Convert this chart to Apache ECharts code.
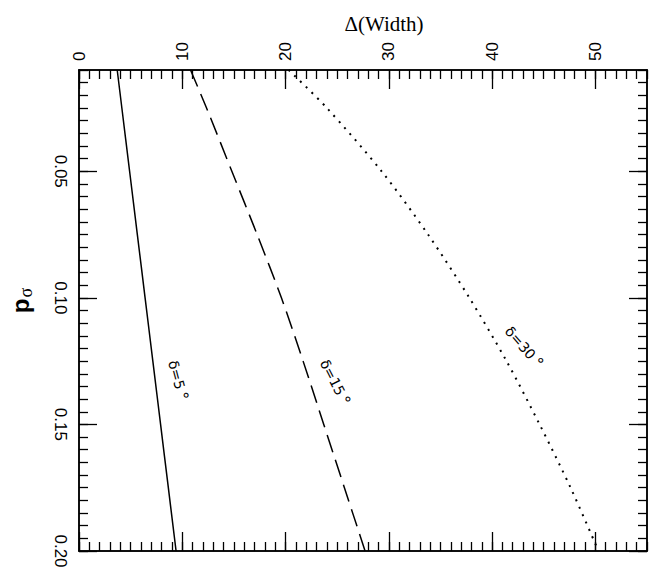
<!DOCTYPE html>
<html>
<head>
<meta charset="utf-8">
<script src="https://cdn.jsdelivr.net/npm/echarts@6/dist/echarts.min.js"></script>
<style>
html,body{margin:0;padding:0;background:#fff;}
#chart{width:661px;height:575px;}
</style>
</head>
<body>
<div id="chart"></div>
<script>
// p_sigma values (vertical axis, top to bottom)
const pSigma = [0.01, 0.025, 0.05, 0.075, 0.10, 0.125, 0.15, 0.175, 0.20];
// Delta(Width) for each delta
const width5  = [3.7, 4.15, 4.9, 5.65, 6.4, 7.15, 7.9, 8.65, 9.4];
const width15 = [10.8, 12.35, 14.8, 17.25, 19.6, 21.7, 23.7, 25.7, 27.7];
const width30 = [20.3, 24.0, 29.3, 33.8, 37.8, 41.4, 44.6, 47.6, 50.3];
// tick labels
const widthTicks = [0, 10, 20, 30, 40, 50];
const pTicks = [0.05, 0.10, 0.15, 0.20];
const curveNames = ['δ=5', 'δ=15', 'δ=30'];

const chart = echarts.init(document.getElementById('chart'), null, {renderer: 'svg'});
const black = '#000';
const tickFont = {fontFamily: 'Liberation Sans', fontSize: 17, color: black};

function xAx(pos, major, labels) {
  const a = {
    type: 'value', position: pos, min: 0, max: 55,
    axisLine: {show: true, onZero: false, lineStyle: {color: black, width: 1.5}},
    splitLine: {show: false},
    axisTick: {show: true, inside: true, length: major ? 19 : 9, lineStyle: {color: black, width: 1.3}},
    axisLabel: {show: false}
  };
  if (major) {
    a.axisTick.customValues = widthTicks;
    a.axisLabel = Object.assign({show: labels, customValues: widthTicks, rotate: -90, margin: 9}, tickFont);
  } else {
    a.interval = 1;
  }
  if (labels) {
    a.name = 'Δ(Width)';
    a.nameLocation = 'middle';
    a.nameGap = 35;
    a.nameTextStyle = {fontFamily: 'Liberation Serif', fontSize: 21, color: black, padding: [0, 0, 0, 42]};
  }
  return a;
}
function yAx(pos, major, labels) {
  const a = {
    type: 'value', position: pos, min: 0.01, max: 0.20, inverse: true,
    axisLine: {show: true, onZero: false, lineStyle: {color: black, width: 1.5}},
    splitLine: {show: false},
    axisTick: {show: true, inside: true, length: major ? 18 : 9, lineStyle: {color: black, width: 1.3}},
    axisLabel: {show: false}
  };
  if (major) {
    a.axisTick.customValues = pTicks;
    a.axisLabel = Object.assign({show: labels, customValues: pTicks, rotate: -90, margin: 10,
      formatter: v => v.toFixed(2)}, tickFont);
  } else {
    a.interval = 0.005;
  }
  if (labels) {
    a.name = '{p|p}{s|σ}';
    a.nameLocation = 'middle';
    a.nameRotate = 90;
    a.nameGap = 44;
    a.nameTextStyle = {padding: [0, 0, 0, 20], rich: {
      p: {fontFamily: 'Liberation Sans', fontWeight: 'bold', fontSize: 24, color: black},
      s: {fontFamily: 'Liberation Serif', fontSize: 18, color: black, verticalAlign: 'bottom', padding: [12, 0, 0, 1]}
    }};
  }
  return a;
}

function mkSeries(name, arr, type, labelCoord, rot) {
  return {
    name: name, type: 'line', xAxisIndex: 0, yAxisIndex: 0,
    data: pSigma.map((p, i) => [arr[i], p]),
    symbol: 'none', smooth: 0.3,
    lineStyle: {color: black, width: type === 'dotted' ? 2 : 1.5, type: type === 'dotted' ? [2, 6] : (type === 'dashed' ? [18, 8] : 'solid')},
    markPoint: {
      symbol: 'circle', symbolSize: 1, itemStyle: {color: 'rgba(0,0,0,0)'},
      data: [{coord: labelCoord}],
      label: {show: true, position: 'inside', rotate: rot, formatter: '{a|' + name + '} {b|°}',
        rich: {a: {fontFamily: 'DejaVu Sans', fontSize: 14, color: black},
               b: {fontFamily: 'DejaVu Sans', fontSize: 16, color: black, verticalAlign: 'top'}}}
    }
  };
}

chart.setOption({
  animation: false,
  grid: {left: 69, right: 14, top: 70, bottom: 24, containLabel: false},
  xAxis: [xAx('top', true, true), xAx('top', false, false), xAx('bottom', true, false), xAx('bottom', false, false)],
  yAxis: [yAx('left', true, true), yAx('left', false, false), yAx('right', true, false), yAx('right', false, false)],
  series: [
    mkSeries(curveNames[0], width5, 'solid', [9.6, 0.1326], -75),
    mkSeries(curveNames[1], width15, 'dashed', [24.8, 0.1334], -63),
    mkSeries(curveNames[2], width30, 'dotted', [43.1, 0.1195], -49)
  ]
});
</script>
</body>
</html>
